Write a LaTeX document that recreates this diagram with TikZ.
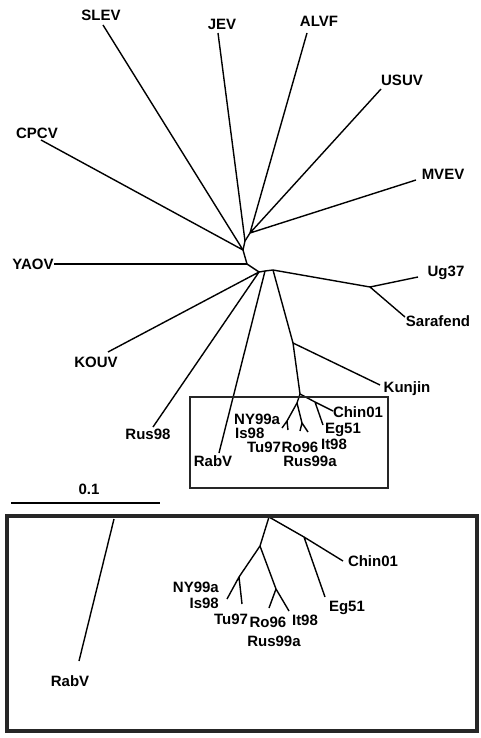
\documentclass[tikz,border=0pt]{standalone}
\usepackage{fontspec}
\setmainfont{Liberation Sans}
\tikzset{
  taxon/.style={font=\fontsize{15}{16}\selectfont\bfseries, inner sep=0pt, text height=10.7pt, text depth=0pt},
  branch/.style={line width=1.4pt, line join=round},
}
\begin{document}
\begin{tikzpicture}[x=1pt,y=-1pt]
  \useasboundingbox (0,0) rectangle (480,738);
  % backbone of the unrooted tree
  \coordinate (n1) at (250,233);
  \coordinate (n2) at (245,241);
  \coordinate (n3) at (243,250);
  \coordinate (n4) at (247,264);
  \coordinate (n5) at (259,272);
  \coordinate (n6) at (265,271);
  \coordinate (n7) at (273,270);
  \coordinate (n8) at (370,287);
  \coordinate (n9) at (293,343);
  \coordinate (n10) at (300,394);
  \draw[branch] (n1) -- (n2) -- (n3) -- (n4) -- (n5) -- (n6) -- (n7) -- (n8);
  \draw[branch] (n7) -- (n9) -- (n10);
  % outer taxa
  \node[taxon] (SLEV) at (101,15) {SLEV};
  \node[taxon] (JEV) at (222,24) {JEV};
  \node[taxon] (ALVF) at (319,21) {ALVF};
  \node[taxon] (USUV) at (402,80) {USUV};
  \node[taxon] (MVEV) at (443,174) {MVEV};
  \node[taxon] (CPCV) at (37,133) {CPCV};
  \node[taxon] (YAOV) at (33,264) {YAOV};
  \node[taxon] (Ug37) at (446,271) {Ug37};
  \node[taxon] (Sarafend) at (438,321) {Sarafend};
  \node[taxon] (KOUV) at (96,362) {KOUV};
  \node[taxon] (Kunjin) at (407,387) {Kunjin};
  \node[taxon] (Rus98) at (148,434) {Rus98};
  \coordinate (eSLEV) at (103,25);
  \coordinate (eJEV) at (218,33);
  \coordinate (eALVF) at (307,33);
  \coordinate (eUSUV) at (381,89);
  \coordinate (eMVEV) at (416,180);
  \coordinate (eCPCV) at (41,140);
  \coordinate (eKOUV) at (108,352);
  \coordinate (eRus98) at (153,427);
  \coordinate (eRabV) at (219,453);
  \coordinate (eUg37) at (418,277);
  \coordinate (eSarafend) at (405,317);
  \coordinate (eKunjin) at (380,385);
  \draw[branch] (n1) -- (eALVF) (n1) -- (eUSUV) (n1) -- (eMVEV);
  \draw[branch] (n2) -- (eJEV) (n3) -- (eSLEV) (n3) -- (eCPCV);
  \draw[branch] (n4) -- (YAOV.east);
  \draw[branch] (n5) -- (eKOUV) (n5) -- (eRus98) (n6) -- (eRabV);
  \draw[branch] (n8) -- (eUg37) (n8) -- (eSarafend) (n9) -- (eKunjin);
  % lineage I, small
  \coordinate (s1) at (315,402);
  \coordinate (s2) at (297,403);
  \coordinate (s3) at (287,421);
  \coordinate (s4) at (302,423);
  \draw[branch] (n10) -- (s1) -- (333,411) (s1) -- (323,425);
  \draw[branch] (n10) -- (s2) -- (s3) -- (282,428) (s3) -- (288,430);
  \draw[branch] (s2) -- (s4) -- (300,431) (s4) -- (308,432);
  \node[taxon] (Chin01s) at (358,412) {Chin01};
  \node[taxon] (Eg51s) at (343,428) {Eg51};
  \node[taxon, anchor=west] (NY99as) at (234,419) {NY99a};
  \node[taxon, anchor=west] (Is98s) at (235,433) {Is98};
  \node[taxon] (Tu97s) at (264,447) {Tu97};
  \node[taxon] (Ro96s) at (300,447) {Ro96};
  \node[taxon] (It98s) at (334,444) {It98};
  \node[taxon] (Rus99as) at (310,461) {Rus99a};
  \node[taxon] (RabVs) at (213,461) {RabV};
  \draw[line width=2.8pt, black!85] (190,397) rectangle (388,488);
  % scale bar
  \node[taxon] (scale) at (89,489) {0.1};
  \draw[branch] (11,503) -- (160,503);
  % lineage I, enlarged
  \coordinate (b0) at (269,517);
  \coordinate (b1) at (304,537);
  \coordinate (b2) at (260,546);
  \coordinate (b3) at (239,577);
  \coordinate (b4) at (276,589);
  \draw[branch] (b0) -- (b1) -- (343,561) (b1) -- (325,597);
  \draw[branch] (b0) -- (b2) -- (b3) -- (227,599) (b3) -- (242,604);
  \draw[branch] (b2) -- (b4) -- (269,608) (b4) -- (289,611);
  \draw[branch] (114,519) -- (79,661);
  \node[taxon] (Chin01) at (373,561) {Chin01};
  \node[taxon] (Eg51) at (347,606) {Eg51};
  \node[taxon, anchor=east] (NY99a) at (219,587) {NY99a};
  \node[taxon, anchor=east] (Is98) at (219,603) {Is98};
  \node[taxon] (Tu97) at (231,619) {Tu97};
  \node[taxon] (Ro96) at (268,622) {Ro96};
  \node[taxon] (It98) at (305,620) {It98};
  \node[taxon] (Rus99a) at (274,641) {Rus99a};
  \node[taxon] (RabV) at (70,681) {RabV};
  \draw[line width=3.6pt, black!85] (7,516) rectangle (477,731);
\end{tikzpicture}
\end{document}
